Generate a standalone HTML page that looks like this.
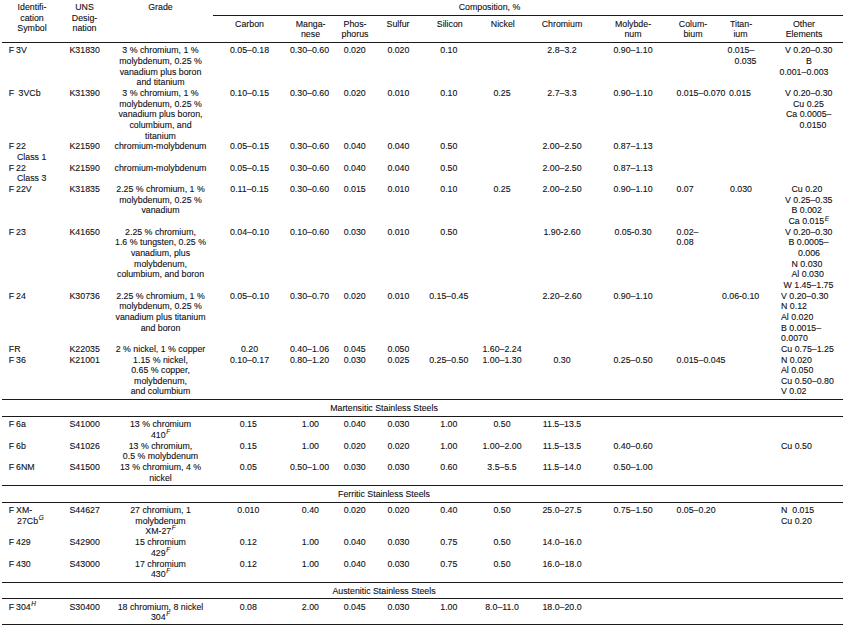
<!DOCTYPE html>
<html><head><meta charset="utf-8"><title>Table</title>
<style>
html,body{margin:0;padding:0;background:#fff;}
body{width:848px;height:627px;position:relative;overflow:hidden;font-family:"Liberation Sans",sans-serif;font-size:8.8px;color:#0e0e12;}
.t{position:absolute;white-space:nowrap;line-height:12px;height:12px;-webkit-text-stroke:0.1px #0e0e12;}
.c{transform:translateX(-50%);}
.r{position:absolute;height:1px;background:#1a1a1a;}
.s{font-size:6.4px;font-style:italic;position:relative;top:-3.5px;margin-left:0.6px;}
</style></head><body>

<div class="r" style="left:213px;width:630px;top:15.00px"></div>
<div class="r" style="left:2px;width:841px;top:42.00px"></div>
<div class="r" style="left:2px;width:841px;top:399.00px"></div>
<div class="r" style="left:2px;width:841px;top:416.00px"></div>
<div class="r" style="left:2px;width:841px;top:485.00px"></div>
<div class="r" style="left:2px;width:841px;top:502.00px"></div>
<div class="r" style="left:2px;width:841px;top:582.00px"></div>
<div class="r" style="left:2px;width:841px;top:598.00px"></div>
<div class="r" style="left:2px;width:841px;top:624.00px"></div>
<div class="t c" style="left:32px;top:0.95px">Identifi-</div>
<div class="t c" style="left:32px;top:11.85px">cation</div>
<div class="t c" style="left:32px;top:21.95px">Symbol</div>
<div class="t c" style="left:84.5px;top:0.95px">UNS</div>
<div class="t c" style="left:84.5px;top:11.85px">Desig-</div>
<div class="t c" style="left:84.5px;top:21.95px">nation</div>
<div class="t c" style="left:160.5px;top:0.95px">Grade</div>
<div class="t c" style="left:489.5px;top:0.95px">Composition, %</div>
<div class="t c" style="left:249.5px;top:17.70px">Carbon</div>
<div class="t c" style="left:310.6px;top:17.70px">Manga-</div>
<div class="t c" style="left:310.5px;top:28.20px">nese</div>
<div class="t c" style="left:355px;top:17.70px">Phos-</div>
<div class="t c" style="left:355px;top:28.20px">phorus</div>
<div class="t c" style="left:398px;top:17.70px">Sulfur</div>
<div class="t c" style="left:449.75px;top:17.70px">Silicon</div>
<div class="t c" style="left:502.75px;top:17.70px">Nickel</div>
<div class="t c" style="left:562px;top:17.70px">Chromium</div>
<div class="t c" style="left:633px;top:17.70px">Molybde-</div>
<div class="t c" style="left:633px;top:28.20px">num</div>
<div class="t c" style="left:693px;top:17.70px">Colum-</div>
<div class="t c" style="left:693px;top:28.20px">bium</div>
<div class="t c" style="left:741px;top:17.70px">Titan-</div>
<div class="t c" style="left:740.5px;top:28.20px">ium</div>
<div class="t c" style="left:804px;top:17.70px">Other</div>
<div class="t c" style="left:804px;top:28.20px">Elements</div>
<div class="t" style="left:8.8px;top:44.25px">F<span style="display:inline-block;width:1.9px"></span>3V</div>
<div class="t" style="left:69.5px;top:44.25px">K31830</div>
<div class="t c" style="left:249.5px;top:44.25px">0.05–0.18</div>
<div class="t c" style="left:309.5px;top:44.25px">0.30–0.60</div>
<div class="t c" style="left:354.75px;top:44.25px">0.020</div>
<div class="t c" style="left:398.4px;top:44.25px">0.020</div>
<div class="t c" style="left:448.8px;top:44.25px">0.10</div>
<div class="t c" style="left:562px;top:44.25px">2.8–3.2</div>
<div class="t c" style="left:633px;top:44.25px">0.90–1.10</div>
<div class="t c" style="left:160.5px;top:44.25px">3 % chromium, 1 %</div>
<div class="t c" style="left:160.5px;top:54.92px">molybdenum, 0.25 %</div>
<div class="t c" style="left:160.5px;top:65.58px">vanadium plus boron</div>
<div class="t c" style="left:160.5px;top:76.25px">and titanium</div>
<div class="t" style="left:727.5px;top:44.25px">0.015–</div>
<div class="t" style="left:734.5px;top:54.92px">0.035</div>
<div class="t" style="left:785px;top:44.25px">V 0.20–0.30</div>
<div class="t" style="left:806px;top:54.92px">B</div>
<div class="t" style="left:779.5px;top:65.58px">0.001–0.003</div>
<div class="t" style="left:8.8px;top:86.92px">F<span style="display:inline-block;width:4.4px"></span>3VCb</div>
<div class="t" style="left:69.5px;top:86.92px">K31390</div>
<div class="t c" style="left:249.5px;top:86.92px">0.10–0.15</div>
<div class="t c" style="left:309.5px;top:86.92px">0.30–0.60</div>
<div class="t c" style="left:354.75px;top:86.92px">0.020</div>
<div class="t c" style="left:398.4px;top:86.92px">0.010</div>
<div class="t c" style="left:448.8px;top:86.92px">0.10</div>
<div class="t c" style="left:502px;top:86.92px">0.25</div>
<div class="t c" style="left:562px;top:86.92px">2.7–3.3</div>
<div class="t c" style="left:633px;top:86.92px">0.90–1.10</div>
<div class="t c" style="left:160.5px;top:86.92px">3 % chromium, 1 %</div>
<div class="t c" style="left:160.5px;top:97.59px">molybdenum, 0.25 %</div>
<div class="t c" style="left:160.5px;top:108.25px">vanadium plus boron,</div>
<div class="t c" style="left:160.5px;top:118.92px">columbium, and</div>
<div class="t c" style="left:160.5px;top:129.59px">titanium</div>
<div class="t" style="left:676.5px;top:86.92px">0.015–0.070</div>
<div class="t" style="left:729px;top:86.92px">0.015</div>
<div class="t" style="left:785px;top:86.92px">V 0.20–0.30</div>
<div class="t" style="left:793px;top:97.59px">Cu 0.25</div>
<div class="t" style="left:786px;top:108.25px">Ca 0.0005–</div>
<div class="t" style="left:799.5px;top:118.92px">0.0150</div>
<div class="t" style="left:8.8px;top:140.25px">F<span style="display:inline-block;width:1.9px"></span>22</div>
<div class="t" style="left:69.5px;top:140.25px">K21590</div>
<div class="t c" style="left:249.5px;top:140.25px">0.05–0.15</div>
<div class="t c" style="left:309.5px;top:140.25px">0.30–0.60</div>
<div class="t c" style="left:354.75px;top:140.25px">0.040</div>
<div class="t c" style="left:398.4px;top:140.25px">0.040</div>
<div class="t c" style="left:448.8px;top:140.25px">0.50</div>
<div class="t c" style="left:562px;top:140.25px">2.00–2.50</div>
<div class="t c" style="left:633px;top:140.25px">0.87–1.13</div>
<div class="t" style="left:17px;top:150.92px">Class 1</div>
<div class="t c" style="left:160.5px;top:140.25px">chromium-molybdenum</div>
<div class="t" style="left:8.8px;top:161.59px">F<span style="display:inline-block;width:1.9px"></span>22</div>
<div class="t" style="left:69.5px;top:161.59px">K21590</div>
<div class="t c" style="left:249.5px;top:161.59px">0.05–0.15</div>
<div class="t c" style="left:309.5px;top:161.59px">0.30–0.60</div>
<div class="t c" style="left:354.75px;top:161.59px">0.040</div>
<div class="t c" style="left:398.4px;top:161.59px">0.040</div>
<div class="t c" style="left:448.8px;top:161.59px">0.50</div>
<div class="t c" style="left:562px;top:161.59px">2.00–2.50</div>
<div class="t c" style="left:633px;top:161.59px">0.87–1.13</div>
<div class="t" style="left:17px;top:172.25px">Class 3</div>
<div class="t c" style="left:160.5px;top:161.59px">chromium-molybdenum</div>
<div class="t" style="left:8.8px;top:182.92px">F<span style="display:inline-block;width:1.9px"></span>22V</div>
<div class="t" style="left:69.5px;top:182.92px">K31835</div>
<div class="t c" style="left:249.5px;top:182.92px">0.11–0.15</div>
<div class="t c" style="left:309.5px;top:182.92px">0.30–0.60</div>
<div class="t c" style="left:354.75px;top:182.92px">0.015</div>
<div class="t c" style="left:398.4px;top:182.92px">0.010</div>
<div class="t c" style="left:448.8px;top:182.92px">0.10</div>
<div class="t c" style="left:502px;top:182.92px">0.25</div>
<div class="t c" style="left:562px;top:182.92px">2.00–2.50</div>
<div class="t c" style="left:633px;top:182.92px">0.90–1.10</div>
<div class="t c" style="left:160.5px;top:182.92px">2.25 % chromium, 1 %</div>
<div class="t c" style="left:160.5px;top:193.59px">molybdenum, 0.25 %</div>
<div class="t c" style="left:160.5px;top:204.26px">vanadium</div>
<div class="t" style="left:676.5px;top:182.92px">0.07</div>
<div class="t" style="left:730px;top:182.92px">0.030</div>
<div class="t" style="left:791.5px;top:182.92px">Cu 0.20</div>
<div class="t" style="left:785px;top:193.59px">V 0.25–0.35</div>
<div class="t" style="left:791.5px;top:204.26px">B 0.002</div>
<div class="t" style="left:788.5px;top:214.92px">Ca 0.015<i class="s" style="top:-2.6px">E</i></div>
<div class="t" style="left:8.8px;top:225.59px">F<span style="display:inline-block;width:1.9px"></span>23</div>
<div class="t" style="left:69.5px;top:225.59px">K41650</div>
<div class="t c" style="left:249.5px;top:225.59px">0.04–0.10</div>
<div class="t c" style="left:309.5px;top:225.59px">0.10–0.60</div>
<div class="t c" style="left:354.75px;top:225.59px">0.030</div>
<div class="t c" style="left:398.4px;top:225.59px">0.010</div>
<div class="t c" style="left:448.8px;top:225.59px">0.50</div>
<div class="t c" style="left:562px;top:225.59px">1.90-2.60</div>
<div class="t c" style="left:633px;top:225.59px">0.05-0.30</div>
<div class="t c" style="left:160.5px;top:225.59px">2.25 % chromium,</div>
<div class="t c" style="left:160.5px;top:236.26px">1.6 % tungsten, 0.25 %</div>
<div class="t c" style="left:160.5px;top:246.92px">vanadium, plus</div>
<div class="t c" style="left:160.5px;top:257.59px">molybdenum,</div>
<div class="t c" style="left:160.5px;top:268.26px">columbium, and boron</div>
<div class="t" style="left:676.5px;top:225.59px">0.02–</div>
<div class="t" style="left:676.5px;top:236.26px">0.08</div>
<div class="t" style="left:785px;top:225.59px">V 0.20–0.30</div>
<div class="t" style="left:788.5px;top:236.26px">B 0.0005–</div>
<div class="t" style="left:798px;top:246.92px">0.006</div>
<div class="t" style="left:791.5px;top:257.59px">N 0.030</div>
<div class="t" style="left:791.5px;top:268.26px">Al 0.030</div>
<div class="t" style="left:783.5px;top:278.92px">W 1.45–1.75</div>
<div class="t" style="left:8.8px;top:289.59px">F<span style="display:inline-block;width:1.9px"></span>24</div>
<div class="t" style="left:69.5px;top:289.59px">K30736</div>
<div class="t c" style="left:249.5px;top:289.59px">0.05–0.10</div>
<div class="t c" style="left:309.5px;top:289.59px">0.30–0.70</div>
<div class="t c" style="left:354.75px;top:289.59px">0.020</div>
<div class="t c" style="left:398.4px;top:289.59px">0.010</div>
<div class="t c" style="left:448.8px;top:289.59px">0.15–0.45</div>
<div class="t c" style="left:562px;top:289.59px">2.20–2.60</div>
<div class="t c" style="left:633px;top:289.59px">0.90–1.10</div>
<div class="t c" style="left:160.5px;top:289.59px">2.25 % chromium, 1 %</div>
<div class="t c" style="left:160.5px;top:300.26px">molybdenum, 0.25 %</div>
<div class="t c" style="left:160.5px;top:310.93px">vanadium plus titanium</div>
<div class="t c" style="left:160.5px;top:321.59px">and boron</div>
<div class="t" style="left:722px;top:289.59px">0.06-0.10</div>
<div class="t" style="left:781px;top:289.59px">V 0.20–0.30</div>
<div class="t" style="left:781px;top:300.26px">N 0.12</div>
<div class="t" style="left:781px;top:310.93px">Al 0.020</div>
<div class="t" style="left:781px;top:321.59px">B 0.0015–</div>
<div class="t" style="left:781px;top:332.26px">0.0070</div>
<div class="t" style="left:781px;top:342.93px">Cu 0.75–1.25</div>
<div class="t" style="left:781px;top:353.59px">N 0.020</div>
<div class="t" style="left:781px;top:364.26px">Al 0.050</div>
<div class="t" style="left:781px;top:374.93px">Cu 0.50–0.80</div>
<div class="t" style="left:781px;top:384.95px">V 0.02</div>
<div class="t" style="left:8.8px;top:342.93px">FR</div>
<div class="t" style="left:69.5px;top:342.93px">K22035</div>
<div class="t c" style="left:249.5px;top:342.93px">0.20</div>
<div class="t c" style="left:309.5px;top:342.93px">0.40–1.06</div>
<div class="t c" style="left:354.75px;top:342.93px">0.045</div>
<div class="t c" style="left:398.4px;top:342.93px">0.050</div>
<div class="t c" style="left:502px;top:342.93px">1.60–2.24</div>
<div class="t c" style="left:160.5px;top:342.93px">2 % nickel, 1 % copper</div>
<div class="t" style="left:8.8px;top:353.59px">F<span style="display:inline-block;width:1.9px"></span>36</div>
<div class="t" style="left:69.5px;top:353.59px">K21001</div>
<div class="t c" style="left:249.5px;top:353.59px">0.10–0.17</div>
<div class="t c" style="left:309.5px;top:353.59px">0.80–1.20</div>
<div class="t c" style="left:354.75px;top:353.59px">0.030</div>
<div class="t c" style="left:398.4px;top:353.59px">0.025</div>
<div class="t c" style="left:448.8px;top:353.59px">0.25–0.50</div>
<div class="t c" style="left:502px;top:353.59px">1.00–1.30</div>
<div class="t c" style="left:562px;top:353.59px">0.30</div>
<div class="t c" style="left:633px;top:353.59px">0.25–0.50</div>
<div class="t c" style="left:160.5px;top:353.59px">1.15 % nickel,</div>
<div class="t c" style="left:160.5px;top:364.26px">0.65 % copper,</div>
<div class="t c" style="left:160.5px;top:374.93px">molybdenum,</div>
<div class="t c" style="left:160.5px;top:384.95px">and columbium</div>
<div class="t" style="left:676.5px;top:353.59px">0.015–0.045</div>
<div class="t c" style="left:384px;top:401.75px">Martensitic Stainless Steels</div>
<div class="t" style="left:8.8px;top:417.95px">F<span style="display:inline-block;width:1.9px"></span>6a</div>
<div class="t" style="left:69.5px;top:417.95px">S41000</div>
<div class="t c" style="left:248.3px;top:417.95px">0.15</div>
<div class="t c" style="left:310.4px;top:417.95px">1.00</div>
<div class="t c" style="left:354.75px;top:417.95px">0.040</div>
<div class="t c" style="left:398.4px;top:417.95px">0.030</div>
<div class="t c" style="left:448.8px;top:417.95px">1.00</div>
<div class="t c" style="left:502px;top:417.95px">0.50</div>
<div class="t c" style="left:562px;top:417.95px">11.5–13.5</div>
<div class="t c" style="left:160.5px;top:417.95px">13 % chromium</div>
<div class="t c" style="left:160.5px;top:428.95px">410<i class="s">F</i></div>
<div class="t" style="left:8.8px;top:439.95px">F<span style="display:inline-block;width:1.9px"></span>6b</div>
<div class="t" style="left:69.5px;top:439.95px">S41026</div>
<div class="t c" style="left:248.3px;top:439.95px">0.15</div>
<div class="t c" style="left:310.4px;top:439.95px">1.00</div>
<div class="t c" style="left:354.75px;top:439.95px">0.020</div>
<div class="t c" style="left:398.4px;top:439.95px">0.020</div>
<div class="t c" style="left:448.8px;top:439.95px">1.00</div>
<div class="t c" style="left:502px;top:439.95px">1.00–2.00</div>
<div class="t c" style="left:562px;top:439.95px">11.5–13.5</div>
<div class="t c" style="left:633px;top:439.95px">0.40–0.60</div>
<div class="t c" style="left:160.5px;top:439.95px">13 % chromium,</div>
<div class="t c" style="left:160.5px;top:449.95px">0.5 % molybdenum</div>
<div class="t" style="left:781px;top:439.95px">Cu 0.50</div>
<div class="t" style="left:8.8px;top:460.95px">F<span style="display:inline-block;width:1.9px"></span>6NM</div>
<div class="t" style="left:69.5px;top:460.95px">S41500</div>
<div class="t c" style="left:248.3px;top:460.95px">0.05</div>
<div class="t c" style="left:309.5px;top:460.95px">0.50–1.00</div>
<div class="t c" style="left:354.75px;top:460.95px">0.030</div>
<div class="t c" style="left:398.4px;top:460.95px">0.030</div>
<div class="t c" style="left:448.8px;top:460.95px">0.60</div>
<div class="t c" style="left:502px;top:460.95px">3.5–5.5</div>
<div class="t c" style="left:562px;top:460.95px">11.5–14.0</div>
<div class="t c" style="left:633px;top:460.95px">0.50–1.00</div>
<div class="t c" style="left:160.5px;top:460.95px">13 % chromium, 4 %</div>
<div class="t c" style="left:160.5px;top:471.95px">nickel</div>
<div class="t c" style="left:384px;top:487.75px">Ferritic Stainless Steels</div>
<div class="t" style="left:8.8px;top:503.95px">F<span style="display:inline-block;width:1.9px"></span>XM-</div>
<div class="t" style="left:69.5px;top:503.95px">S44627</div>
<div class="t c" style="left:248.3px;top:503.95px">0.010</div>
<div class="t c" style="left:310.4px;top:503.95px">0.40</div>
<div class="t c" style="left:354.75px;top:503.95px">0.020</div>
<div class="t c" style="left:398.4px;top:503.95px">0.020</div>
<div class="t c" style="left:448.8px;top:503.95px">0.40</div>
<div class="t c" style="left:502px;top:503.95px">0.50</div>
<div class="t c" style="left:562px;top:503.95px">25.0–27.5</div>
<div class="t c" style="left:633px;top:503.95px">0.75–1.50</div>
<div class="t" style="left:17px;top:514.95px">27Cb<i class="s">G</i></div>
<div class="t c" style="left:160.5px;top:503.95px">27 chromium, 1</div>
<div class="t c" style="left:160.5px;top:514.95px">molybdenum</div>
<div class="t c" style="left:160.5px;top:524.95px">XM-27<i class="s">F</i></div>
<div class="t" style="left:676.5px;top:503.95px">0.05–0.20</div>
<div class="t" style="left:781px;top:503.95px">N&nbsp; 0.015</div>
<div class="t" style="left:781px;top:514.95px">Cu 0.20</div>
<div class="t" style="left:8.8px;top:535.95px">F<span style="display:inline-block;width:1.9px"></span>429</div>
<div class="t" style="left:69.5px;top:535.95px">S42900</div>
<div class="t c" style="left:248.3px;top:535.95px">0.12</div>
<div class="t c" style="left:310.4px;top:535.95px">1.00</div>
<div class="t c" style="left:354.75px;top:535.95px">0.040</div>
<div class="t c" style="left:398.4px;top:535.95px">0.030</div>
<div class="t c" style="left:448.8px;top:535.95px">0.75</div>
<div class="t c" style="left:502px;top:535.95px">0.50</div>
<div class="t c" style="left:562px;top:535.95px">14.0–16.0</div>
<div class="t c" style="left:160.5px;top:535.95px">15 chromium</div>
<div class="t c" style="left:160.5px;top:546.95px">429<i class="s">F</i></div>
<div class="t" style="left:8.8px;top:557.95px">F<span style="display:inline-block;width:1.9px"></span>430</div>
<div class="t" style="left:69.5px;top:557.95px">S43000</div>
<div class="t c" style="left:248.3px;top:557.95px">0.12</div>
<div class="t c" style="left:310.4px;top:557.95px">1.00</div>
<div class="t c" style="left:354.75px;top:557.95px">0.040</div>
<div class="t c" style="left:398.4px;top:557.95px">0.030</div>
<div class="t c" style="left:448.8px;top:557.95px">0.75</div>
<div class="t c" style="left:502px;top:557.95px">0.50</div>
<div class="t c" style="left:562px;top:557.95px">16.0–18.0</div>
<div class="t c" style="left:160.5px;top:557.95px">17 chromium</div>
<div class="t c" style="left:160.5px;top:567.95px">430<i class="s">F</i></div>
<div class="t c" style="left:384px;top:584.75px">Austenitic Stainless Steels</div>
<div class="t" style="left:8.8px;top:600.95px">F<span style="display:inline-block;width:1.9px"></span>304<i class="s">H</i></div>
<div class="t" style="left:69.5px;top:600.95px">S30400</div>
<div class="t c" style="left:248.3px;top:600.95px">0.08</div>
<div class="t c" style="left:310.4px;top:600.95px">2.00</div>
<div class="t c" style="left:354.75px;top:600.95px">0.045</div>
<div class="t c" style="left:398.4px;top:600.95px">0.030</div>
<div class="t c" style="left:448.8px;top:600.95px">1.00</div>
<div class="t c" style="left:502px;top:600.95px">8.0–11.0</div>
<div class="t c" style="left:562px;top:600.95px">18.0–20.0</div>
<div class="t c" style="left:160.5px;top:600.95px">18 chromium, 8 nickel</div>
<div class="t c" style="left:160.5px;top:610.95px">304<i class="s">F</i></div>
</body></html>
